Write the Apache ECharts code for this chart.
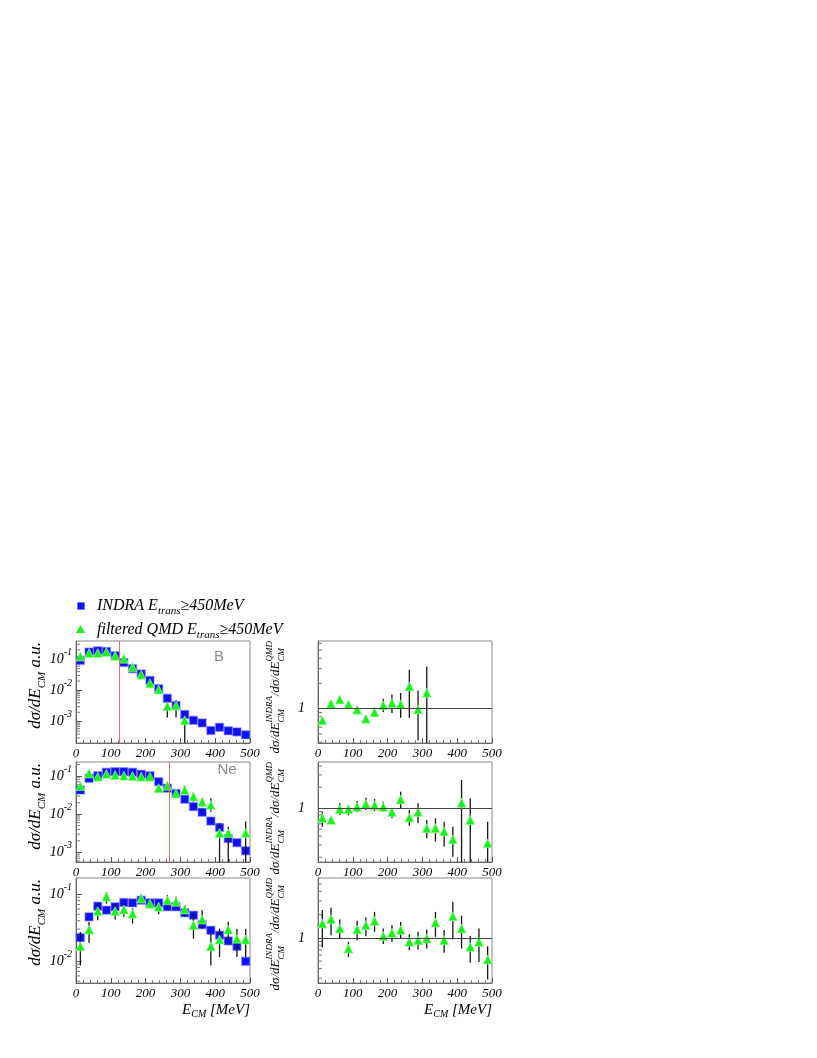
<!DOCTYPE html>
<html><head><meta charset="utf-8">
<script src="https://cdn.jsdelivr.net/npm/echarts@6/dist/echarts.min.js"></script>
<style>html,body{margin:0;padding:0;background:#fff;}#c{width:817px;height:1058px;}</style>
</head><body><div id="c"></div>
<script>
// ---------------- data ----------------
const energy = [12.5,37.5,62.5,87.5,112.5,137.5,162.5,187.5,212.5,237.5,262.5,287.5,312.5,337.5,362.5,387.5,412.5,437.5,462.5,487.5];
const xTickValues = [0,100,200,300,400,500];
const panelLabels = ['B','Ne',''];
const cutEnergy = [125, 268, null];

// panel 1 (B)
const indraB = [0.092,0.17,0.186,0.178,0.13,0.079,0.05,0.034,0.021,0.0114,0.0056,0.0033,0.0017,0.0011,0.00091,0.00052,0.00066,0.00051,0.00047,0.00038];
const qmdB   = [0.123,0.158,0.158,0.17,0.129,0.104,0.056,0.032,0.017,0.0107,0.0031,0.0033,0.0011,null,null,null,null,null,null,null];
const qmdBLo = [0.115,0.148,0.148,0.16,0.12,0.097,0.052,0.029,0.0155,0.0095,0.00135,0.00135,0.0001,null,null,null,null,null,null,null];
const qmdBHi = [0.131,0.168,0.168,0.18,0.138,0.111,0.06,0.035,0.0188,0.0122,0.0044,0.0049,0.0015,null,null,null,null,null,null,null];
const ratioB   = [0.726,1.147,1.29,1.126,0.973,0.76,0.904,1.096,1.168,1.126,1.84,0.98,1.55,null,null,null,null,null,null,null];
const ratioBLo = [0.675,1.07,1.21,1.05,0.9,0.71,0.8,0.91,0.89,0.78,0.78,0.42,0.3,null,null,null,null,null,null,null];
const ratioBHi = [0.78,1.23,1.38,1.2,1.05,0.81,1.03,1.31,1.48,1.54,2.91,1.65,3.19,null,null,null,null,null,null,null];

// panel 2 (Ne)
const indraNe = [0.043,0.087,0.102,0.125,0.13,0.13,0.125,0.111,0.102,0.071,0.048,0.035,0.0246,0.0158,0.0113,0.0066,0.0045,0.0023,0.0018,0.0011];
const qmdNe   = [0.055,0.117,0.096,0.113,0.106,0.102,0.1,0.096,0.096,0.048,0.056,0.035,0.043,0.029,0.021,0.0174,0.0032,0.0032,null,0.0032];
const qmdNeLo = [0.05,0.11,0.09,0.106,0.1,0.096,0.094,0.09,0.09,0.037,0.048,0.0287,0.033,0.0212,0.0158,0.0116,0.0003,0.0003,null,0.0003];
const qmdNeHi = [0.062,0.125,0.102,0.12,0.113,0.108,0.106,0.102,0.102,0.0605,0.071,0.04,0.0558,0.0373,0.027,0.026,0.0058,0.0047,null,0.0064];
const ratioNe   = [0.73,0.68,0.97,0.97,1.05,1.15,1.11,1.05,0.885,1.34,0.74,0.885,0.52,0.52,0.47,0.36,1.2,0.68,null,0.316];
const ratioNeLo = [0.547,0.61,0.8,0.8,0.877,0.947,0.916,0.896,0.72,1.0,0.565,0.61,0.373,0.334,0.284,0.204,0.1,0.1,null,0.1];
const ratioNeHi = [0.896,0.72,1.18,1.116,1.27,1.42,1.36,1.245,1.0,1.73,0.947,1.18,0.68,0.72,0.645,0.547,2.54,1.39,null,0.645];

// panel 3
const indra3 = [0.0224,0.0457,0.066,0.0575,0.0646,0.075,0.074,0.081,0.074,0.074,0.0646,0.0646,0.0525,0.0484,0.035,0.0288,0.0243,0.02,0.0166,0.0099];
const qmd3   = [0.0166,0.0295,0.0556,0.0912,0.0556,0.0589,0.051,0.086,0.072,0.0646,0.081,0.0767,0.0589,0.0343,0.0417,0.0166,0.0209,0.0295,0.0216,0.0209];
const qmd3Lo = [0.0086,0.0187,0.0407,0.072,0.0417,0.0457,0.0363,0.072,0.061,0.05,0.0646,0.0646,0.0457,0.0216,0.0305,0.0086,0.0115,0.0204,0.0115,0.0115];
const qmd3Hi = [0.0272,0.0385,0.074,0.108,0.072,0.072,0.061,0.1,0.083,0.0767,0.097,0.0912,0.0684,0.0513,0.0575,0.0256,0.0305,0.0385,0.0305,0.0305];
const ratio3   = [1.535,1.75,1.32,0.727,1.28,1.46,1.65,1.06,1.16,1.26,0.887,0.93,0.98,1.58,0.93,1.91,1.32,0.764,0.887,0.523];
const ratio3Lo = [0.749,1.083,0.98,0.566,0.93,1.05,1.2,0.83,0.887,0.98,0.69,0.705,0.727,1.03,0.64,0.95,0.727,0.474,0.488,0.288];
const ratio3Hi = [2.29,2.45,1.73,0.887,1.66,1.84,2.17,1.32,1.46,1.61,1.116,1.2,1.28,2.17,1.26,2.93,1.93,1.06,1.32,0.78];

// axis ranges (log)
const leftRanges  = [[0.000207,0.385],[0.00056,0.233],[0.0047,0.174]];
const rightRanges = [[0.39,6.4],[0.171,4.59],[0.26,5.96]];

const indra = [indraB, indraNe, indra3];
const qmd = [qmdB, qmdNe, qmd3], qmdLo = [qmdBLo, qmdNeLo, qmd3Lo], qmdHi = [qmdBHi, qmdNeHi, qmd3Hi];
const ratio = [ratioB, ratioNe, ratio3], ratioLo = [ratioBLo, ratioNeLo, ratio3Lo], ratioHi = [ratioBHi, ratioNeHi, ratio3Hi];

// ---------------- layout ----------------
const rows = [{top:641,height:102},{top:762,height:100},{top:878,height:105}];
const colLeft = [76, 318], colWidth = 174;
const SERIF = 'Liberation Serif';
const BLUE = '#1010f4', GREEN = '#1cf01c';

const grids = [], xAxes = [], yAxes = [], series = [];

function pts(vals){ return energy.map((e,i)=>[e, vals[i]]).filter(p=>p[1]!=null); }
function bars(lo,hi){ return energy.map((e,i)=>[e, lo[i], hi[i]]).filter(p=>p[1]!=null); }
function minorVals(r){ const o=[]; for(let e=-5;e<=2;e++) for(let m=2;m<=9;m++){ const v=m*Math.pow(10,e); if(v>r[0]&&v<r[1]) o.push([0,v]); } return o; }

const logFmtLeft = v => { const l=Math.log10(v), e=Math.round(l); return Math.abs(l-e)>1e-6 ? '' : '{b|10}{s|'+e+'}'; };
const logFmtRight = v => Math.abs(v-1)<1e-9 ? '{b|1}' : '';
const richLbl = {
  b:{fontFamily:SERIF,fontStyle:'italic',fontSize:14,lineHeight:24,color:'#000'},
  s:{fontFamily:SERIF,fontStyle:'italic',fontSize:10,lineHeight:10,verticalAlign:'top',color:'#000'}
};

function xAxisCfg(g){
  return {type:'value',gridIndex:g,min:0,max:500,interval:100,
    axisLine:{show:true,onZero:false,lineStyle:{color:'#666',width:1}},
    axisTick:{show:true,inside:true,length:5,lineStyle:{color:'#555'}},
    minorTick:{show:true,splitNumber:5,length:3,lineStyle:{color:'#777'}},
    splitLine:{show:false},
    axisLabel:{fontFamily:SERIF,fontStyle:'italic',fontSize:13,color:'#000',margin:4,
      formatter:v=>xTickValues.indexOf(v)>=0?String(v):''}};
}
function yAxisCfg(g,r,fmt,margin){
  return {type:'log',logBase:10,gridIndex:g,min:r[0],max:r[1],
    axisLine:{show:true,onZero:false,lineStyle:{color:'#666',width:1}},
    axisTick:{show:true,inside:true,length:6,lineStyle:{color:'#555'}},
    splitLine:{show:false},
    axisLabel:{formatter:fmt,margin:margin,rich:richLbl,showMinLabel:false,showMaxLabel:false}};
}
function minorTickSeries(g,r){
  return {type:'custom',xAxisIndex:g,yAxisIndex:g,silent:true,clip:false,z:1,
    data:minorVals(r),
    renderItem:(p,api)=>{const c=api.coord([0,api.value(1)]);
      return {type:'line',shape:{x1:c[0],y1:c[1],x2:c[0]+4,y2:c[1]},style:{stroke:'#777',lineWidth:1}};}};
}
function errSeries(g,data){
  return {type:'custom',xAxisIndex:g,yAxisIndex:g,silent:true,clip:true,z:3,
    data:data, encode:{x:0,y:[1,2]},
    renderItem:(p,api)=>{const a=api.coord([api.value(0),api.value(1)]),b=api.coord([api.value(0),api.value(2)]);
      return {type:'line',shape:{x1:a[0],y1:a[1],x2:b[0],y2:b[1]},style:{stroke:'#151515',lineWidth:1.3}};}};
}
const indraStyle = {color:BLUE,opacity:1,borderColor:'rgba(90,90,255,0.4)',borderWidth:1.5};
const qmdStyle = {color:GREEN,opacity:1,borderColor:'rgba(160,255,160,0.6)',borderWidth:1};

for(let p=0;p<3;p++){
  const gl=p, gr=3+p;
  grids[gl]={left:colLeft[0],top:rows[p].top,width:colWidth,height:rows[p].height,show:true,borderColor:'#888',borderWidth:1,containLabel:false};
  grids[gr]={left:colLeft[1],top:rows[p].top,width:colWidth,height:rows[p].height,show:true,borderColor:'#888',borderWidth:1,containLabel:false};
  xAxes[gl]=xAxisCfg(gl); xAxes[gr]=xAxisCfg(gr);
  yAxes[gl]=yAxisCfg(gl,leftRanges[p],logFmtLeft,4);
  yAxes[gr]=yAxisCfg(gr,rightRanges[p],logFmtRight,13);

  const indraSer = {name:'INDRA',type:'scatter',xAxisIndex:gl,yAxisIndex:gl,symbol:'rect',symbolSize:8,
    itemStyle:indraStyle,z:2,data:pts(indra[p])};
  if(cutEnergy[p]!=null){
    indraSer.markLine={silent:true,symbol:'none',label:{show:false},animation:false,
      lineStyle:{color:'#dd7070',width:1,type:'solid',opacity:1},data:[{xAxis:cutEnergy[p]}]};
  }
  series.push(indraSer);
  series.push(errSeries(gl,bars(qmdLo[p],qmdHi[p])));
  series.push({name:'QMD',type:'scatter',xAxisIndex:gl,yAxisIndex:gl,symbol:'triangle',symbolSize:9,
    itemStyle:qmdStyle,z:4,data:pts(qmd[p])});
  series.push(minorTickSeries(gl,leftRanges[p]));

  series.push(errSeries(gr,bars(ratioLo[p],ratioHi[p])));
  series.push({name:'ratio',type:'scatter',xAxisIndex:gr,yAxisIndex:gr,symbol:'triangle',symbolSize:9,
    itemStyle:qmdStyle,z:4,data:pts(ratio[p]),
    markLine:{silent:true,symbol:'none',label:{show:false},animation:false,
      lineStyle:{color:'#444',width:1,type:'solid',opacity:1},data:[{yAxis:1}]}});
  series.push(minorTickSeries(gr,rightRanges[p]));
}

// ---------------- text helpers ----------------
const mctx = document.createElement('canvas').getContext('2d');
function tw(t,size){ mctx.font='italic '+size+'px "'+SERIF+'"'; return mctx.measureText(t).width; }
function compose(parts){
  let x=0, pend=0; const els=[];
  parts.forEach(p=>{
    const w=tw(p.t,p.size);
    els.push({type:'text',x:x,y:p.dy||0,silent:true,
      style:{text:p.t,fontFamily:SERIF,fontStyle:'italic',fontSize:p.size,fill:'#000',align:'left',verticalAlign:'middle'}});
    if(p.stack){ pend=w; } else { x+=Math.max(w,pend); pend=0; }
  });
  return {children:els,width:x};
}
const graphics = [];
function rotatedTitle(parts,xc,yEnd){
  const c=compose(parts);
  graphics.push({type:'group',x:xc,y:yEnd+c.width,rotation:Math.PI/2,children:c.children});
}
function hTitle(parts,xRight,yc){
  const c=compose(parts);
  graphics.push({type:'group',x:xRight-c.width,y:yc,children:c.children});
}
function hText(parts,xLeft,yc){
  const c=compose(parts);
  graphics.push({type:'group',x:xLeft,y:yc,children:c.children});
}

const leftTitle=[{t:'dσ/dE',size:17},{t:'CM',size:11,dy:6},{t:' a.u.',size:17}];
const rightTitle=[{t:'dσ/dE',size:13},{t:'INDRA',size:9,dy:-6,stack:true},{t:'CM',size:9,dy:6},
                  {t:'/dσ/dE',size:13},{t:'QMD',size:9,dy:-6,stack:true},{t:'CM',size:9,dy:6}];
const xTitle=[{t:'E',size:15},{t:'CM',size:10,dy:4},{t:' [MeV]',size:15}];
for(let p=0;p<3;p++){
  rotatedTitle(leftTitle,36,rows[p].top+1);
  rotatedTitle(rightTitle,276,rows[p].top);
}
hTitle(xTitle,colLeft[0]+colWidth,1010);
hTitle(xTitle,colLeft[1]+colWidth,1010);

// panel labels
const labelPos=[[219,657],[227,770]];
panelLabels.forEach((t,i)=>{ if(t) graphics.push({type:'text',x:labelPos[i][0],y:labelPos[i][1],silent:true,
  style:{text:t,fontFamily:'Liberation Sans',fontSize:15,fill:'#8a8a8a',align:'center',verticalAlign:'middle'}}); });

// legend
graphics.push({type:'rect',shape:{x:77.5,y:602.5,width:7,height:7},style:{fill:BLUE,stroke:'rgba(90,90,255,0.4)',lineWidth:1}});
graphics.push({type:'polygon',shape:{points:[[80.5,625],[76,633],[85,633]]},style:{fill:GREEN}});
hText([{t:'INDRA E',size:16},{t:'trans',size:11,dy:5},{t:'≥450MeV',size:16}],97,606);
hText([{t:'filtered QMD E',size:16},{t:'trans',size:11,dy:5},{t:'≥450MeV',size:16}],97,630);

const chart = echarts.init(document.getElementById('c'),null,{renderer:'canvas'});
chart.setOption({animation:false,backgroundColor:'#fff',grid:grids,xAxis:xAxes,yAxis:yAxes,series:series,graphic:graphics});
</script></body></html>
